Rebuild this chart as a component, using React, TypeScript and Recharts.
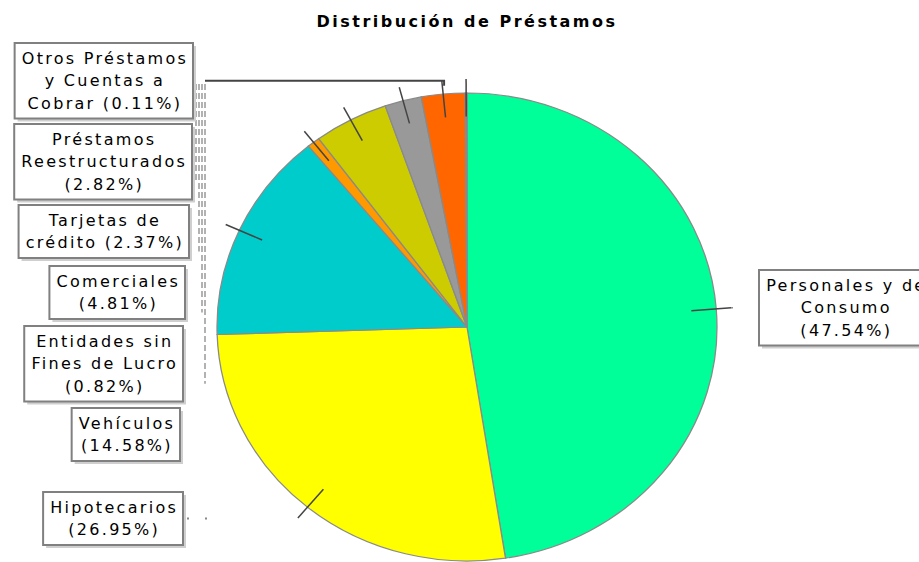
import { PieChart, Pie, Cell } from 'recharts';

const categories = [
  'Personales y de Consumo',
  'Hipotecarios',
  'Vehículos',
  'Entidades sin Fines de Lucro',
  'Comerciales',
  'Tarjetas de crédito',
  'Préstamos Reestructurados',
  'Otros Préstamos y Cuentas a Cobrar',
];
const shares = [47.54, 26.95, 14.58, 0.82, 4.81, 2.37, 2.82, 0.11];
const colors = ['#00FF99', '#FFFF00', '#00CCCC', '#FF9900', '#CCCC00', '#999999', '#FF6600', '#9966CC'];

const data = categories.map((name, i) => ({ name, value: shares[i] }));

const W = 919;
const H = 562;
const CX = 467;
const CY = 327;
const R = 234;
const SX = 250 / 234; // pie is a little wider than tall

const FONT = '"DejaVu Sans", sans-serif';
const FS = 16;
const LS = 2.3;
const LINE_H = 22.5;

// where each label box sits: right edge (or left edge for the right-hand one) and top
const boxPos = [
  { x: 759, y: 270, side: 'right' },
  { x: 183, y: 492, side: 'left' },
  { x: 180, y: 408, side: 'left' },
  { x: 183, y: 326, side: 'left' },
  { x: 185, y: 266, side: 'left' },
  { x: 189, y: 205, side: 'left' },
  { x: 192, y: 124, side: 'left' },
  { x: 193, y: 43, side: 'left' },
];

let ctx: CanvasRenderingContext2D | null = null;
const measure = (s: string) => {
  if (!ctx) {
    ctx = document.createElement('canvas').getContext('2d');
    if (ctx) ctx.font = `${FS}px ${FONT}`;
  }
  const w = ctx ? ctx.measureText(s).width : s.length * 9;
  return w + LS * s.length;
};

const wrap = (s: string, max = 15) => {
  const words = s.split(' ');
  const lines: string[] = [];
  let cur = '';
  words.forEach((w) => {
    const next = cur ? cur + ' ' + w : w;
    if (next.length > max && cur) {
      lines.push(cur);
      cur = w;
    } else cur = next;
  });
  if (cur) lines.push(cur);
  return lines;
};

// dashed link lines in the left column
const dashX: Record<number, number> = { 3: 205, 4: 202, 5: 199, 6: 196 };

const renderLabel = (p: any) => {
  const i = p.index;
  const a = (p.midAngle * Math.PI) / 180;
  const px = (r: number) => p.cx + r * SX * Math.cos(a);
  const py = (r: number) => p.cy - r * Math.sin(a);
  const r0 = p.outerRadius;

  const lines = wrap(`${categories[i]} (${shares[i].toFixed(2)}%)`);
  const tw = Math.max(...lines.map(measure));
  const bw = tw + 12;
  const bh = lines.length * LINE_H + 8;
  const pos = boxPos[i];
  const bx = pos.side === 'left' ? pos.x - bw : pos.x;
  const by = pos.y;
  const midY = by + bh / 2;

  return (
    <g key={`lab-${i}`}>
      <line x1={px(r0 * 0.9)} y1={py(r0 * 0.9)} x2={px(r0 * 1.06)} y2={py(r0 * 1.06)} stroke="#444" strokeWidth={1.5} />
      {i === 0 && (
        <line x1={px(r0 * 1.06)} y1={py(r0 * 1.06)} x2={bx - 26} y2={py(r0 * 1.06)} stroke="#555" strokeWidth={1} />
      )}
      {i === 1 && (
        <line x1={pos.x + 4} y1={midY} x2={208} y2={midY} stroke="#888" strokeWidth={2} strokeDasharray="2 16" />
      )}
      {i === 7 && (
        <polyline
          points={`${pos.x + 12},${midY} ${px(r0 * 1.05) - 22},${midY} ${px(r0 * 1.05) - 22},${midY + 5}`}
          fill="none"
          stroke="#444"
          strokeWidth={2}
        />
      )}
      {dashX[i] !== undefined && (
        <line
          x1={dashX[i]}
          y1={84}
          x2={dashX[i]}
          y2={midY + 20}
          stroke="#999"
          strokeWidth={1.5}
          strokeDasharray="6 3"
        />
      )}
      <rect x={bx + 3} y={by + 3} width={bw} height={bh} fill="#cfcfcf" />
      <rect x={bx} y={by} width={bw} height={bh} fill="#fff" stroke="#808080" strokeWidth={2} />
      {lines.map((ln, k) => (
        <text
          key={k}
          x={bx + bw / 2 + LS / 2}
          y={by + 4 + LINE_H * (k + 0.5)}
          textAnchor="middle"
          dominantBaseline="central"
          fontFamily={FONT}
          fontSize={FS}
          letterSpacing={LS}
          fill="#000"
        >
          {ln}
        </text>
      ))}
    </g>
  );
};

export default function App() {
  return (
    <div style={{ width: W, height: H, background: '#fff' }}>
      <style>{`body{margin:0}
.recharts-pie-sector{transform-origin:${CX}px ${CY}px;transform:scaleX(${SX});}`}</style>
      <PieChart width={W} height={H} margin={{ top: 0, right: 0, bottom: 0, left: 0 }}>
        <text x={CX} y={21} textAnchor="middle" dominantBaseline="central" fontFamily={FONT} fontWeight="bold" fontSize={16} letterSpacing={2.5} fill="#000">
          Distribución de Préstamos
        </text>
        <Pie
          data={data}
          dataKey="value"
          nameKey="name"
          cx={CX}
          cy={CY}
          outerRadius={R}
          startAngle={90}
          endAngle={-270}
          stroke="#8a8a8a"
          strokeWidth={1.2}
          label={renderLabel}
          labelLine={false}
          isAnimationActive={false}
        >
          {data.map((d, i) => (
            <Cell key={d.name} fill={colors[i]} />
          ))}
        </Pie>
      </PieChart>
    </div>
  );
}
